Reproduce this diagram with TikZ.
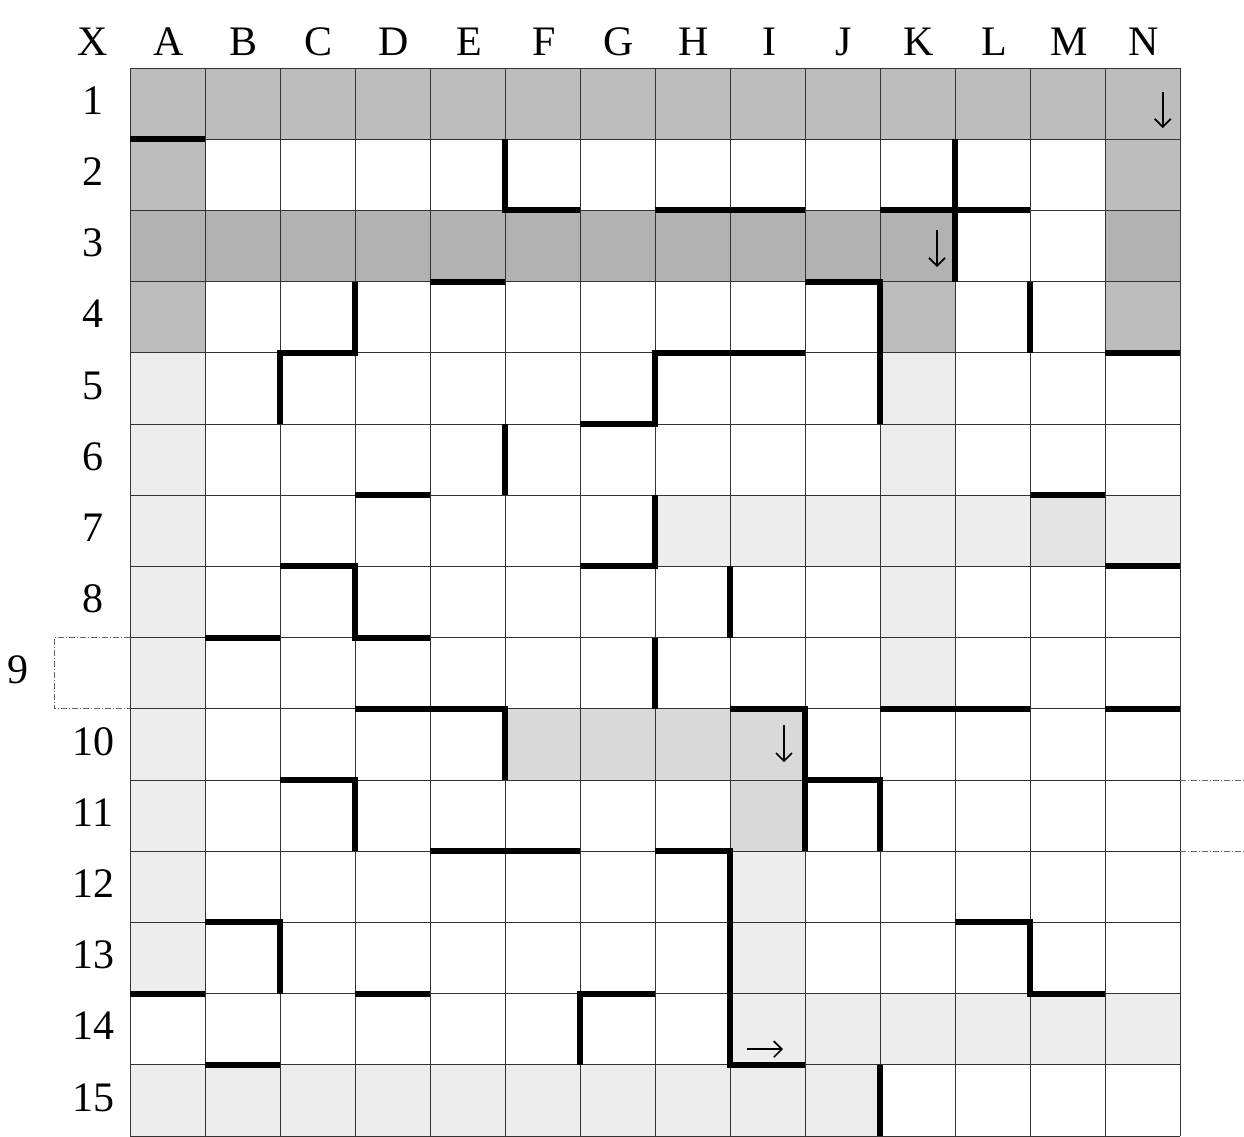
\documentclass[tikz,border=0pt]{standalone}
\usepackage{fontspec}
\setmainfont{Liberation Serif}
\usetikzlibrary{arrows.meta}
\begin{document}
\begin{tikzpicture}[x=75pt,y=-71.2pt,
  shdark/.style={fill=black!26},
  shdarker/.style={fill=black!30},
  shmid/.style={fill=black!15},
  shlight/.style={fill=black!7},
  shlightmid/.style={fill=black!11},
  gridline/.style={draw=black!80,line width=0.9pt},
  extraline/.style={draw=black!60,line width=0.7pt,dash pattern=on 6pt off 2pt on 1pt off 2pt},
  wall/.style={draw=black,line width=6pt,line join=miter,line cap=butt},
  lab/.style={font=\fontsize{42}{50}\selectfont,inner sep=0pt,anchor=base},
  cellarrow/.style={draw=black,line width=1.7pt,-{Straight Barb[length=8pt,width=16pt,line width=1.7pt]}}
]
% page frame
\useasboundingbox (-1.7333,-0.9551) rectangle (14.8533,15.0);
\fill[white] (-1.7333,-0.9551) rectangle (14.8533,15.0);

% ---- shading ----
\foreach \c in {0,...,13} \fill[shdark] (\c,0) rectangle ++(1,1);
\foreach \c in {0,...,10,13} \fill[shdarker] (\c,2) rectangle ++(1,1);
\fill[shdark] (0,1) rectangle ++(1,1);
\fill[shdark] (13,1) rectangle ++(1,1);
\fill[shdark] (0,3) rectangle ++(1,1);
\fill[shdark] (10,3) rectangle ++(1,1);
\fill[shdark] (13,3) rectangle ++(1,1);
% medium
\foreach \c in {5,6,7,8} \fill[shmid] (\c,9) rectangle ++(1,1);
\fill[shmid] (8,10) rectangle ++(1,1);
% light
\foreach \r in {4,...,12} \fill[shlight] (0,\r) rectangle ++(1,1);
\foreach \r in {4,5,7,8} \fill[shlight] (10,\r) rectangle ++(1,1);
\foreach \c in {7,...,13} \fill[shlight] (\c,6) rectangle ++(1,1);
\fill[shlightmid] (12,6) rectangle ++(1,1);
\fill[shlight] (8,11) rectangle ++(1,1);
\fill[shlight] (8,12) rectangle ++(1,1);
\foreach \c in {8,...,13} \fill[shlight] (\c,13) rectangle ++(1,1);
\foreach \c in {0,...,9} \fill[shlight] (\c,14) rectangle ++(1,1);

% ---- grid ----
\foreach \i in {0,...,14} \draw[gridline] (\i,0) -- (\i,15);
\foreach \j in {0,...,15} \draw[gridline] (0,\j) -- (14,\j);

% extra thin lines (row 9 box, right extensions)
\draw[extraline] (0,8) -- (-1.013,8) -- (-1.013,9) -- (0,9);
\draw[extraline] (14,10) -- (14.8533,10);
\draw[extraline] (14,11) -- (14.8533,11);

% ---- walls ----
\draw[wall] (0,1) -- (1,1);
\draw[wall] (5,1) -- (5,2) -- (6,2);
\draw[wall] (7,2) -- (9,2);
\draw[wall] (10,2) -- (12,2);
\draw[wall] (11,1) -- (11,3);
\draw[wall] (4,3) -- (5,3);
\draw[wall] (3,3) -- (3,4) -- (2,4) -- (2,5);
\draw[wall] (9,3) -- (10,3) -- (10,5);
\draw[wall] (12,3) -- (12,4);
\draw[wall] (13,4) -- (14,4);
\draw[wall] (9,4) -- (7,4) -- (7,5) -- (6,5);
\draw[wall] (5,5) -- (5,6);
\draw[wall] (3,6) -- (4,6);
\draw[wall] (7,6) -- (7,7) -- (6,7);
\draw[wall] (12,6) -- (13,6);
\draw[wall] (13,7) -- (14,7);
\draw[wall] (2,7) -- (3,7) -- (3,8) -- (4,8);
\draw[wall] (1,8) -- (2,8);
\draw[wall] (8,7) -- (8,8);
\draw[wall] (7,8) -- (7,9);
\draw[wall] (3,9) -- (5,9) -- (5,10);
\draw[wall] (8,9) -- (9,9) -- (9,11);
\draw[wall] (9,10) -- (10,10) -- (10,11);
\draw[wall] (10,9) -- (12,9);
\draw[wall] (13,9) -- (14,9);
\draw[wall] (2,10) -- (3,10) -- (3,11);
\draw[wall] (4,11) -- (6,11);
\draw[wall] (7,11) -- (8,11) -- (8,14) -- (9,14);
\draw[wall] (1,12) -- (2,12) -- (2,13);
\draw[wall] (0,13) -- (1,13);
\draw[wall] (3,13) -- (4,13);
\draw[wall] (7,13) -- (6,13) -- (6,14);
\draw[wall] (11,12) -- (12,12) -- (12,13) -- (13,13);
\draw[wall] (1,14) -- (2,14);
\draw[wall] (10,14) -- (10,15);

% ---- arrows in cells ----
\coordinate (a1s) at (13.77,0.337);
\coordinate (a1e) at (13.77,0.843);
\coordinate (a2s) at (10.76,2.275);
\coordinate (a2e) at (10.76,2.795);
\coordinate (a3s) at (8.72,9.23);
\coordinate (a3e) at (8.72,9.75);
\coordinate (a4s) at (8.227,13.78);
\coordinate (a4e) at (8.707,13.78);
\draw[cellarrow] (a1s) -- (a1e);
\draw[cellarrow] (a2s) -- (a2e);
\draw[cellarrow] (a3s) -- (a3e);
\draw[cellarrow] (a4s) -- (a4e);

% ---- labels ----
\node[lab] (colX) at (-0.493,-0.1826) {X};
\foreach \L [count=\k from 0] in {A,B,C,D,E,F,G,H,I,J,K,L,M,N}
  \node[lab] (col\L) at (\k+0.52,-0.1826) {\L};
\foreach \r in {1,...,8,10,11,12,13,14,15}
  \node[lab] (row\r) at (-0.493,\r-0.35) {\r};
\node[lab] (row9) at (-1.493,8.64) {9};
\end{tikzpicture}
\end{document}
